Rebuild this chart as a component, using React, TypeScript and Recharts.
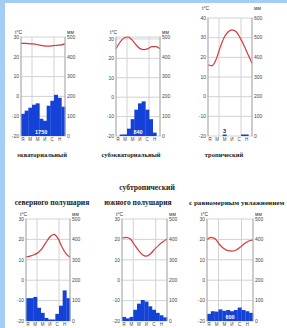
import { ComposedChart, Bar, Line, XAxis, YAxis, CartesianGrid, ReferenceDot } from 'recharts'

const MONTHS = ['01', '02', '03', '04', '05', '06', '07', '08', '09', '10', '11', '12']
const MONTH_TICKS = ['Я', '', 'М', '', 'М', '', 'И', '', 'С', '', 'Н', '']
const QUARTERS = [3, 6, 9]

const T_TICKS = [-20, -10, 0, 10, 20, 30]
const T_TICKS_HOT = [-20, -10, 0, 10, 20, 30, 40]
const MM_TICKS = [0, 100, 200, 300, 400, 500]
const MM_TICKS_HOT = [0, 100, 200, 300, 400, 500, 600]

// temperature (°C) and precipitation (mm) by month
const EQUATORIAL_T = [26.8, 26.8, 26.7, 26.5, 26.2, 25.8, 25.4, 25.4, 25.6, 25.8, 26, 26.5]
const EQUATORIAL_R = [112, 128, 143, 158, 165, 87, 77, 153, 178, 208, 193, 148]

const SUBEQUATORIAL_T = [25, 28.3, 30.5, 31, 29.5, 27, 25, 24.5, 25, 26, 26, 25]
const SUBEQUATORIAL_R = [0, 2, 8, 37, 85, 133, 165, 175, 133, 85, 17, 0]

const TROPICAL_T = [16.2, 15.7, 18.8, 24.8, 30, 32.9, 34, 33.1, 30, 26, 21.4, 17]
const TROPICAL_R = [0, 0, 0, 0, 1, 0, 0, 0, 0, 1, 1, 0]

const SUBTROP_N_T = [11.4, 11.8, 12.5, 13.5, 15.5, 18.5, 21.3, 22.5, 20.5, 16.3, 13, 11.3]
const SUBTROP_N_R = [112, 112, 118, 65, 40, 15, 5, 5, 35, 75, 150, 112]

const SUBTROP_S_T = [20.7, 21, 20.3, 17.5, 14.7, 12.5, 11.8, 13, 15.2, 17.2, 18.8, 20.2]
const SUBTROP_S_R = [20, 13, 20, 55, 85, 103, 95, 72, 55, 40, 28, 18]

const UNIFORM_T = [20, 21, 20.2, 17.5, 15.5, 14.5, 14.3, 14.8, 16.3, 18, 19.2, 19.7]
const UNIFORM_R = [35, 48, 46, 57, 50, 54, 48, 54, 66, 54, 48, 40]

const AXW = 16
const MT = 16
const XH = 10
const TICK_FONT = { fontSize: 5, fill: '#444', fontFamily: 'Liberation Sans' }

type Total = { text: string; index: number; frac: number; color: string; lift: number }

type ChartProps = {
  temp: number[]
  rain: number[]
  tTicks: number[]
  mmTicks: number[]
  left: number
  top: number
  plotW: number
  plotH: number
  unitGap: number
  total?: Total
}

function ClimateChart(p: ChartProps) {
  const data = MONTHS.map((m, i) => ({ m, i, t: p.temp[i], r: p.rain[i] }))
  const tDomain = [p.tTicks[0], p.tTicks[p.tTicks.length - 1]]
  const mmDomain = [p.mmTicks[0], p.mmTicks[p.mmTicks.length - 1]]
  const unitStyle = {
    position: 'absolute' as const,
    top: MT - p.unitGap - 3,
    fontSize: 5,
    lineHeight: '6px',
    color: '#333',
    fontFamily: 'Liberation Sans',
  }

  const t = p.total
  const totalLabel = (props: any) => {
    if (!t) return null
    const vb = props.viewBox
    const x = vb.x + vb.width / 2 + (t.frac - 0.5) * (p.plotW / 12)
    return (
      <text x={x} y={vb.y - t.lift} textAnchor="middle" fontSize={5.5} fontWeight="bold" fill={t.color} fontFamily="Liberation Sans">
        {t.text}
      </text>
    )
  }

  return (
    <div style={{ position: 'absolute', left: p.left - AXW, top: p.top - MT }}>
      <div style={{ ...unitStyle, left: AXW - 6 }}>t°C</div>
      <div style={{ ...unitStyle, left: AXW + p.plotW + 2 }}>мм</div>
      <ComposedChart
        width={AXW * 2 + p.plotW}
        height={MT + p.plotH + XH}
        data={data}
        margin={{ top: MT, right: 0, bottom: 0, left: 0 }}
        barCategoryGap={0}
        barGap={0}
      >
        <XAxis
          xAxisId="m"
          dataKey="m"
          type="category"
          height={XH}
          interval={0}
          tickSize={0}
          tickMargin={2}
          axisLine={false}
          tick={{ ...TICK_FONT, fontSize: 4.5 }}
          tickFormatter={(_v: string, i: number) => MONTH_TICKS[i]}
        />
        <XAxis xAxisId="t" dataKey="i" type="number" domain={[0, 11]} hide />
        <XAxis xAxisId="q" dataKey="i" type="number" domain={[0, 12]} ticks={QUARTERS} hide allowDataOverflow />
        <YAxis
          yAxisId="t"
          orientation="left"
          width={AXW}
          domain={tDomain}
          ticks={p.tTicks}
          interval={0}
          tickSize={1}
          tickMargin={1}
          tick={TICK_FONT}
          axisLine={{ stroke: '#b0b0b0' }}
          tickLine={{ stroke: '#c8c8c8' }}
        />
        <YAxis
          yAxisId="mm"
          orientation="right"
          width={AXW}
          domain={mmDomain}
          ticks={p.mmTicks}
          interval={0}
          tickSize={1}
          tickMargin={1}
          tick={{ ...TICK_FONT, textAnchor: 'start' }}
          axisLine={{ stroke: '#b0b0b0' }}
          tickLine={{ stroke: '#c8c8c8' }}
        />
        <CartesianGrid xAxisId="q" yAxisId="t" stroke="#d2d2d2" />
        <Bar
          xAxisId="m"
          yAxisId="mm"
          dataKey="r"
          fill="#1442d6"
          isAnimationActive={false}
          minPointSize={(v: number) => (v > 0 ? 1.5 : 0)}
        />
        <Line
          xAxisId="t"
          yAxisId="t"
          dataKey="t"
          type="monotone"
          stroke="#d43a3a"
          strokeWidth={1.2}
          dot={false}
          isAnimationActive={false}
        />
        {t && (
          <ReferenceDot
            xAxisId="m"
            yAxisId="mm"
            x={MONTHS[t.index]}
            y={mmDomain[0]}
            r={0}
            fill="none"
            stroke="none"
            label={totalLabel}
          />
        )}
      </ComposedChart>
    </div>
  )
}

const captionStyle = {
  position: 'absolute' as const,
  fontFamily: 'Liberation Serif',
  fontWeight: 'bold' as const,
  fontSize: 6.5,
  lineHeight: '8px',
  color: '#222',
  whiteSpace: 'nowrap' as const,
}

function Caption({ text, cx, cy, size }: { text: string; cx: number; cy: number; size?: number }) {
  return (
    <div style={{ ...captionStyle, fontSize: size ?? 6.5, left: cx - 60, width: 120, top: cy - 4, textAlign: 'center' }}>
      {text}
    </div>
  )
}

export default function App() {
  return (
    <div style={{ position: 'absolute', left: 0, top: 0, width: 287, height: 328, overflow: 'hidden', background: '#fff' }}>
      <div style={{ position: 'absolute', left: 0, top: 0, width: 287, height: 3, background: '#a3cdf5' }} />
      <div style={{ position: 'absolute', left: 0, top: 0, width: 5, height: 328, background: '#a3cdf5' }} />

      <ClimateChart temp={EQUATORIAL_T} rain={EQUATORIAL_R} tTicks={T_TICKS} mmTicks={MM_TICKS}
        left={21} top={37} plotW={44} plotH={99} unitGap={5}
        total={{ text: '1750', index: 5, frac: 0.5, color: '#fff', lift: 2 }} />
      <ClimateChart temp={SUBEQUATORIAL_T} rain={SUBEQUATORIAL_R} tTicks={T_TICKS} mmTicks={MM_TICKS}
        left={116} top={37} plotW={44} plotH={99} unitGap={5}
        total={{ text: '840', index: 6, frac: 0, color: '#fff', lift: 2 }} />
      <ClimateChart temp={TROPICAL_T} rain={TROPICAL_R} tTicks={T_TICKS_HOT} mmTicks={MM_TICKS_HOT}
        left={208} top={18} plotW={44} plotH={118} unitGap={10}
        total={{ text: '3', index: 4, frac: 0.5, color: '#1a1a55', lift: 3 }} />

      <Caption text="экваториальный" cx={42} cy={155} />
      <Caption text="субэкваториальный" cx={131} cy={155} />
      <Caption text="тропический" cx={224} cy={155} />

      <Caption text="субтропический" cx={147} cy={188} size={7.6} />
      <Caption text="северного полушария" cx={52} cy={203} size={7.6} />
      <Caption text="южного полушария" cx={138} cy={203} size={7.6} />
      <div style={{ ...captionStyle, fontSize: 7.1, left: 189, top: 199 }}>с равномерным увлажнением</div>

      <ClimateChart temp={SUBTROP_N_T} rain={SUBTROP_N_R} tTicks={T_TICKS} mmTicks={MM_TICKS}
        left={26} top={219} plotW={44} plotH={102} unitGap={5} />
      <ClimateChart temp={SUBTROP_S_T} rain={SUBTROP_S_R} tTicks={T_TICKS} mmTicks={MM_TICKS}
        left={122} top={219} plotW={45} plotH={102} unitGap={5} />
      <ClimateChart temp={UNIFORM_T} rain={UNIFORM_R} tTicks={T_TICKS} mmTicks={MM_TICKS}
        left={207} top={219} plotW={46} plotH={102} unitGap={5}
        total={{ text: '600', index: 6, frac: 0, color: '#fff', lift: 2 }} />
    </div>
  )
}
